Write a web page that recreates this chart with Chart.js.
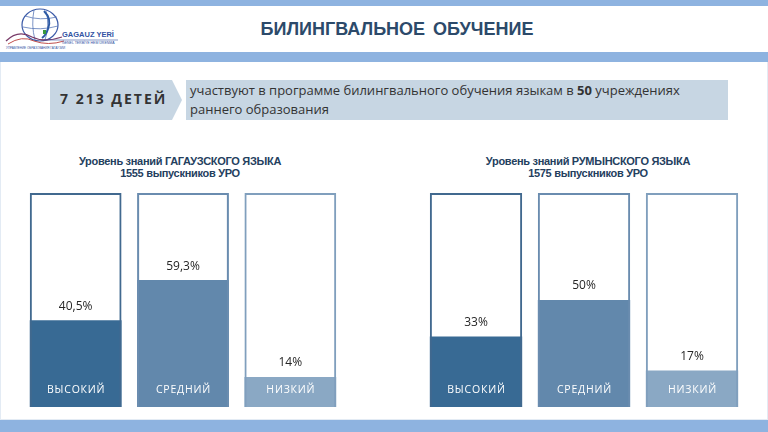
<!DOCTYPE html>
<html>
<head>
<meta charset="utf-8">
<script src="https://cdn.jsdelivr.net/npm/chart.js@4/dist/chart.umd.min.js"></script>
<style>
  html, body { margin: 0; padding: 0; background: #fff; }
  body { width: 768px; height: 432px; position: relative; overflow: hidden; font-family: "Open Sans", sans-serif; }
  .band { position: absolute; left: 0; width: 768px; background: #8eb3e0; }
  .title { position: absolute; left: 0; width: 794px; top: 19px; text-align: center;
           font: bold 18px "Liberation Sans", Arial, sans-serif; color: #2c4a6a; word-spacing: 3px; }
  .box { position: absolute; background: #c7d6e3; }
  .count { position: absolute; left: 60px; top: 89px; font: bold 14px "Open Sans", sans-serif;
           letter-spacing: 2px; color: #333; }
  .desc { position: absolute; left: 190px; top: 81px; width: 530px; font: 13px "Open Sans", sans-serif;
          line-height: 19px; color: #333; }
  .ctitle { position: absolute; width: 300px; text-align: center; font: bold 11px "Liberation Sans", Arial, sans-serif;
            color: #24405e; line-height: 12px; letter-spacing: -0.3px; }
  canvas { position: absolute; }
</style>
</head>
<body>
<div class="band" style="top:0;height:6px"></div>
<div class="band" style="top:52px;height:10px"></div>
<div class="band" style="top:420px;height:12px"></div>
<div style="position:absolute;left:0;top:62px;width:766px;height:357px;border:1px solid #e3ebf4;border-top:none"></div>

<svg style="position:absolute;left:4px;top:7px" width="130" height="44" viewBox="0 0 130 44">
  <ellipse cx="36" cy="18" rx="18" ry="16" fill="none" stroke="#3b5aa8" stroke-width="1.2"/>
  <path d="M21 9 Q36 14 53 10 M19 20 Q36 24 54 19 M30 3 Q27 18 31 33 M42 4 Q46 18 41 33" fill="none" stroke="#5a78b8" stroke-width="0.8"/>
  <path d="M40 4 Q48 12 44 22 Q42 28 38 31" fill="none" stroke="#2d5aa5" stroke-width="2"/>
  <rect x="39" y="23" width="3" height="4" fill="#3a9a3a"/>
  <path d="M2 34 Q14 22 28 30 Q40 36 58 30" fill="none" stroke="#7a3d6a" stroke-width="1.3"/>
  <path d="M4 37 Q18 28 30 34 Q44 39 60 34" fill="none" stroke="#c0504d" stroke-width="1"/>
  <text x="58" y="30" font-family="Liberation Sans, Arial" font-weight="bold" font-size="7.5" fill="#3253a3">GAGAUZ YERİ</text>
  <line x1="40" y1="33" x2="114" y2="33" stroke="#3253a3" stroke-width="0.6"/>
  <text x="58" y="37" font-family="Liberation Sans, Arial" font-size="3.5" fill="#3253a3">GENEL TERBİYE HEM ÜRENMÄ</text>
  <text x="2" y="42" font-family="Liberation Sans, Arial" font-size="3" fill="#3253a3">УПРАВЛЕНИЕ ОБРАЗОВАНИЯ ГАГАУЗИИ</text>
</svg>
<div class="title">БИЛИНГВАЛЬНОЕ ОБУЧЕНИЕ</div>

<svg style="position:absolute;left:50px;top:80px" width="134" height="40">
  <polygon points="0,0 122,0 132,20 122,40 0,40" fill="#c7d6e3"/>
</svg>
<div class="box" style="left:186px;top:80px;width:542px;height:40px"></div>
<div class="count">7 213 ДЕТЕЙ</div>
<div class="desc">участвуют в программе билингвального обучения языкам в <b>50</b> учреждениях<br>раннего образования</div>

<div class="ctitle" style="left:30px;top:155px">Уровень знаний ГАГАУЗСКОГО ЯЗЫКА<br>1555 выпускников УРО</div>
<div class="ctitle" style="left:438px;top:155px">Уровень знаний РУМЫНСКОГО ЯЗЫКА<br>1575 выпускников УРО</div>

<canvas id="gagauzChart" width="322" height="214" style="left:22px;top:193px"></canvas>
<canvas id="romanianChart" width="324" height="214" style="left:422px;top:193px"></canvas>

<script>
// levels and shares (percent)
const levels = ['ВЫСОКИЙ', 'СРЕДНИЙ', 'НИЗКИЙ'];
const gagauzShares = [40.5, 59.3, 14];
const romanianShares = [33, 50, 17];
const fullShare = [100, 100, 100];

const fillColors = ['#386a94', '#6288ac', '#8aa8c4'];
const frameColors = ['#41698f', '#6a8caf', '#809fbd'];

// draws the % above each fill and the level name inside the bar foot
const barLabels = {
    id: 'barLabels',
    afterDatasetsDraw(chart) {
        const ctx = chart.ctx;
        const meta = chart.getDatasetMeta(0);
        const values = chart.data.datasets[0].data;
        ctx.save();
        ctx.textAlign = 'center';
        ctx.textBaseline = 'middle';
        meta.data.forEach(function (bar, i) {
            ctx.fillStyle = '#262626';
            ctx.font = '12px "Open Sans", sans-serif';
            ctx.letterSpacing = '0px';
            ctx.fillText(String(values[i]).replace('.', ',') + '%', bar.x, bar.y - 14);
            ctx.fillStyle = '#ffffff';
            ctx.font = '10.5px "Open Sans", sans-serif';
            ctx.letterSpacing = '0.8px';
            ctx.fillText(chart.data.labels[i], bar.x + 0.5, bar.base - 17);
        });
        ctx.restore();
    }
};

function makeChart(id, shares) {
    const config = {
        type: 'bar',
        data: {
            labels: levels,
            datasets: [{
                label: 'share',
                data: shares,
                backgroundColor: fillColors,
                borderWidth: 0,
                grouped: false,
                order: 2
            }, {
                label: 'frame',
                data: fullShare,
                backgroundColor: 'rgba(0,0,0,0)',
                borderColor: frameColors,
                borderWidth: 2,
                grouped: false,
                order: 1
            }]
        },
        options: {
            responsive: false,
            animation: false,
            events: [],
            layout: { padding: 0 },
            datasets: {
                bar: { categoryPercentage: 1, barPercentage: 0.855 }
            },
            plugins: {
                legend: { display: false },
                tooltip: { enabled: false }
            },
            scales: {
                x: { display: false },
                y: { display: false, min: 0, max: 100 }
            }
        },
        plugins: [barLabels]
    };
    return new Chart(document.getElementById(id), config);
}

makeChart('gagauzChart', gagauzShares);
makeChart('romanianChart', romanianShares);
</script>
</body>
</html>
